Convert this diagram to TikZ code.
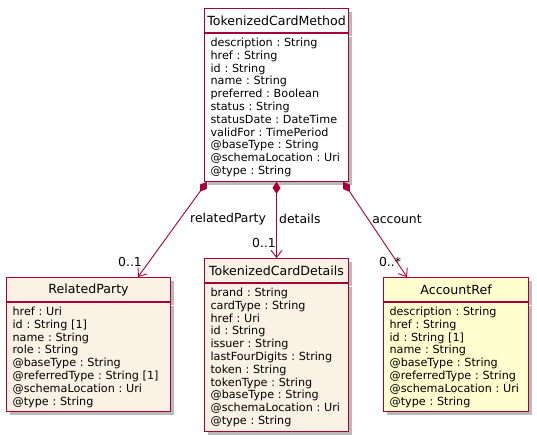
\documentclass[tikz,border=0pt]{standalone}
\usepackage{fontspec}
\setmainfont{DejaVu Sans}
\usetikzlibrary{arrows.meta,shadows}
\definecolor{umlred}{HTML}{A80036}
\definecolor{umllinen}{HTML}{FBF1E4}
\definecolor{umlyellow}{HTML}{FEFECE}
\frenchspacing
\begin{document}
\begin{tikzpicture}[x=1pt, y=-1pt,
  box/.style={draw=umlred, line width=1.1pt, drop shadow={shadow xshift=3.5pt, shadow yshift=-3.5pt, fill=black!45, opacity=0.6}},
  hdr/.style={box, anchor=north west, minimum height=24pt, inner sep=0pt, font=\fontsize{12.6}{14}\selectfont},
  attr/.style={box, anchor=north west, align=left, inner xsep=6pt, inner ysep=4.4pt, font=\fontsize{11.2}{12.8}\selectfont},
  comp/.style={draw=umlred, line width=0.9pt, {Diamond[length=12pt,width=8pt]}-{Straight Barb[length=7pt,width=11pt]}},
  lbl/.style={font=\fontsize{12.4}{14}\selectfont, inner sep=0pt}]
\useasboundingbox (0,0) rectangle (537,440);
\node[hdr, fill=white, minimum width=144pt] (TCM) at (204,8) {TokenizedCardMethod};
\node[attr, fill=white, text width=132pt] (TCMa) at (TCM.south west) {description : String\\href : String\\id : String\\name : String\\preferred : Boolean\\status : String\\statusDate : DateTime\\validFor : TimePeriod\\@baseType : String\\@schemaLocation : Uri\\@type : String};
\node[hdr, fill=umllinen, minimum width=164pt] (RP) at (6,277) {RelatedParty};
\node[attr, fill=umllinen, text width=152pt] (RPa) at (RP.south west) {href : Uri\\id : String [1]\\name : String\\role : String\\@baseType : String\\@referredType : String [1]\\@schemaLocation : Uri\\@type : String};
\node[hdr, fill=umllinen, minimum width=144pt] (TCD) at (204,258) {TokenizedCardDetails};
\node[attr, fill=umllinen, text width=132pt] (TCDa) at (TCD.south west) {brand : String\\cardType : String\\href : Uri\\id : String\\issuer : String\\lastFourDigits : String\\token : String\\tokenType : String\\@baseType : String\\@schemaLocation : Uri\\@type : String};
\node[hdr, fill=umlyellow, minimum width=145pt] (AR) at (383,277) {AccountRef};
\node[attr, fill=umlyellow, text width=133pt] (ARa) at (AR.south west) {description : String\\href : String\\id : String [1]\\name : String\\@baseType : String\\@referredType : String\\@schemaLocation : Uri\\@type : String};
\draw[comp] ([xshift=3pt]TCMa.south west) -- ([xshift=132pt]RP.north west);
\draw[comp] (TCMa.south) -- (TCD.north);
\draw[comp] ([xshift=-6pt]TCMa.south east) -- ([xshift=24pt]AR.north west);
\node[lbl] (relLbl) at (228,219) {relatedParty};
\node[lbl, anchor=west] (detLbl) at (279,219) {details};
\node[lbl] (accLbl) at (397,219) {account};
\node[lbl] (relMul) at (130,262) {0..1};
\node[lbl] (detMul) at (264,243) {0..1};
\node[lbl] (accMul) at (390,262) {0..*};
\end{tikzpicture}
\end{document}
